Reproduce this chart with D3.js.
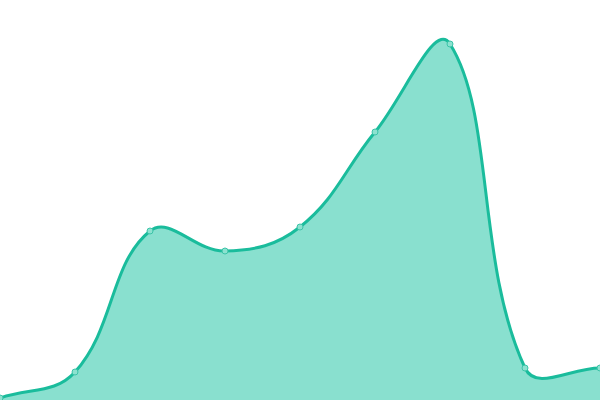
<!DOCTYPE html>
<html><head><meta charset="utf-8">
<script src="https://cdn.jsdelivr.net/npm/d3@7"></script>
<style>html,body{margin:0;padding:0;background:#fff;overflow:hidden}</style>
</head><body>
<svg id="chart" width="600" height="400"></svg>
<script>
const categories = [0, 1, 2, 3, 4, 5, 6, 7, 8];
const values = [2, 28, 169, 149, 173, 268, 356, 32, 32];

const W = 600, H = 400;
const svg = d3.select("#chart");
const x = d3.scaleLinear().domain([0, categories.length - 1]).range([0, W]);
const y = d3.scaleLinear().domain([0, 400]).range([H, 0]);

const data = categories.map((c, i) => ({c, v: values[i]}));

// Spline curve factory (tension-based, distance-weighted control points) for d3.line / d3.area
function SplineCurve(context, tension) { this._context = context; this._t = tension; }
SplineCurve.prototype = {
  areaStart() { this._line = 0; },
  areaEnd() { this._line = NaN; },
  lineStart() { this._pts = []; },
  point(px, py) { this._pts.push([+px, +py]); },
  lineEnd() {
    const p = this._pts, n = p.length, ctx = this._context, t = this._t;
    if (n) {
      if (this._line) ctx.lineTo(p[0][0], p[0][1]); else ctx.moveTo(p[0][0], p[0][1]);
      const cps = p.map((cur, i) => {
        const prev = p[Math.max(i - 1, 0)], next = p[Math.min(i + 1, n - 1)];
        const d01 = Math.hypot(cur[0] - prev[0], cur[1] - prev[1]);
        const d12 = Math.hypot(next[0] - cur[0], next[1] - cur[1]);
        let s01 = d01 / (d01 + d12), s12 = d12 / (d01 + d12);
        if (isNaN(s01)) s01 = 0; if (isNaN(s12)) s12 = 0;
        const fa = t * s01, fb = t * s12;
        return {
          prev: [cur[0] - fa * (next[0] - prev[0]), cur[1] - fa * (next[1] - prev[1])],
          next: [cur[0] + fb * (next[0] - prev[0]), cur[1] + fb * (next[1] - prev[1])]
        };
      });
      for (let i = 0; i < n - 1; i++) {
        const a = cps[i].next, b = cps[i + 1].prev;
        ctx.bezierCurveTo(a[0], a[1], b[0], b[1], p[i + 1][0], p[i + 1][1]);
      }
    }
    if (this._line || (this._line !== 0 && n === 1)) ctx.closePath();
    this._line = 1 - this._line;
  }
};
const curve = ctx => new SplineCurve(ctx, 0.4);

svg.append("path").datum(data)
  .attr("d", d3.area().x(d => x(d.c)).y0(y(0)).y1(d => y(d.v)).curve(curve))
  .attr("fill", "#89e0cf");

svg.append("path").datum(data)
  .attr("d", d3.line().x(d => x(d.c)).y(d => y(d.v)).curve(curve))
  .attr("fill", "none").attr("stroke", "#1abc9c").attr("stroke-width", 3);

svg.selectAll("circle").data(data).join("circle")
  .attr("cx", d => x(d.c)).attr("cy", d => y(d.v)).attr("r", 3)
  .attr("fill", "#8ce2d0").attr("stroke", "#3cc4a8").attr("stroke-width", 1);
</script>
</body></html>
